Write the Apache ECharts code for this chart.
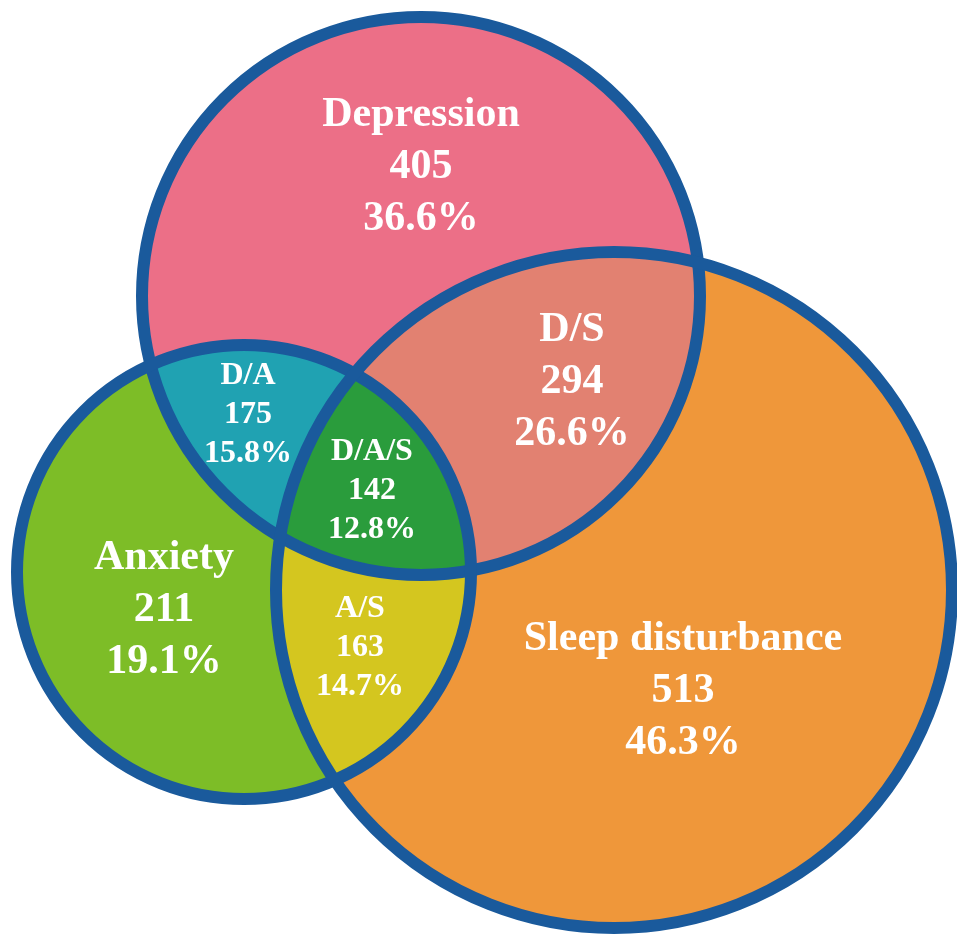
<!DOCTYPE html>
<html>
<head>
<meta charset="utf-8">
<script src="https://cdn.jsdelivr.net/npm/echarts@6/dist/echarts.min.js"></script>
<style>
  html, body { margin: 0; padding: 0; background: #fff; }
  #chart { width: 957px; height: 943px; }
</style>
</head>
<body>
<div id="chart"></div>
<script>
// data
const setNames = ['Depression', 'Anxiety', 'Sleep disturbance'];
const regionLabels = ['Depression', 'Anxiety', 'Sleep disturbance', 'D/A', 'D/S', 'A/S', 'D/A/S'];
const regionCounts = [405, 211, 513, 175, 294, 163, 142];
const regionPercents = ['36.6%', '19.1%', '46.3%', '15.8%', '26.6%', '14.7%', '12.8%'];
// sets each region belongs to (index into setNames)
const regionSets = [[0], [1], [2], [0, 1], [0, 2], [1, 2], [0, 1, 2]];

// layout (axis units = px)
const circles = [
  { cx: 421, cy: 296, r: 279 },
  { cx: 244, cy: 572, r: 227 },
  { cx: 614, cy: 590, r: 338 },
];
const regionColors = ['#ec6f87', '#7dbd27', '#ef973a', '#20a2b2', '#e28171', '#d4c61f', '#2a9c3c'];
const labelAnchors = [[421, 167], [164, 610], [683, 691], [248, 415], [572, 382], [360, 648], [372, 491]];
const bigLabel = [true, true, true, false, true, false, false];
const borderColor = '#1a5a9c';

// intersection of the member circles (always convex) as a polygon
function regionPolygon(members) {
  const pts = [];
  const N = 720;
  members.forEach((i) => {
    const c = circles[i];
    for (let k = 0; k < N; k++) {
      const a = (k / N) * Math.PI * 2;
      const x = c.cx + c.r * Math.cos(a);
      const y = c.cy + c.r * Math.sin(a);
      const inside = members.every((j) => j === i ||
        Math.hypot(x - circles[j].cx, y - circles[j].cy) <= circles[j].r);
      if (inside) pts.push([x, y]);
    }
  });
  let mx = 0, my = 0;
  pts.forEach((p) => { mx += p[0]; my += p[1]; });
  mx /= pts.length; my /= pts.length;
  pts.sort((p, q) => Math.atan2(p[1] - my, p[0] - mx) - Math.atan2(q[1] - my, q[0] - mx));
  return pts;
}

const chart = echarts.init(document.getElementById('chart'));

chart.setOption({
  animation: false,
  grid: { left: 0, right: 0, top: 0, bottom: 0 },
  xAxis: { type: 'value', min: 0, max: 957, show: false },
  yAxis: { type: 'value', min: 0, max: 943, inverse: true, show: false },
  series: [
    {
      type: 'custom',
      silent: true,
      data: regionLabels.map((name, i) => [labelAnchors[i][0], labelAnchors[i][1], i]),
      encode: { x: 0, y: 1 },
      renderItem: (params, api) => {
        const i = api.value(2);
        const points = regionPolygon(regionSets[i]).map((p) => api.coord(p));
        return {
          type: 'polygon',
          shape: { points },
          style: { fill: regionColors[i], stroke: regionColors[i], lineWidth: 1 },
        };
      },
    },
    {
      type: 'custom',
      silent: true,
      data: setNames.map((name, i) => [circles[i].cx, circles[i].cy, i]),
      encode: { x: 0, y: 1 },
      renderItem: (params, api) => {
        const c = circles[api.value(2)];
        const center = api.coord([c.cx, c.cy]);
        return {
          type: 'circle',
          shape: { cx: center[0], cy: center[1], r: api.size([c.r, 0])[0] },
          style: { fill: 'none', stroke: borderColor, lineWidth: 12 },
        };
      },
    },
    {
      type: 'custom',
      silent: true,
      data: regionLabels.map((name, i) => [labelAnchors[i][0], labelAnchors[i][1], i]),
      encode: { x: 0, y: 1 },
      renderItem: (params, api) => {
        const i = api.value(2);
        const pos = api.coord([api.value(0), api.value(1)]);
        const big = bigLabel[i];
        return {
          type: 'text',
          style: {
            text: `${regionLabels[i]}\n${regionCounts[i]}\n${regionPercents[i]}`,
            x: pos[0],
            y: pos[1],
            fill: '#ffffff',
            fontFamily: '"Liberation Serif", "Times New Roman", serif',
            fontWeight: 'bold',
            fontSize: big ? 42 : 32,
            lineHeight: big ? 52 : 39,
            align: 'center',
            verticalAlign: 'middle',
          },
        };
      },
    },
  ],
});
</script>
</body>
</html>
